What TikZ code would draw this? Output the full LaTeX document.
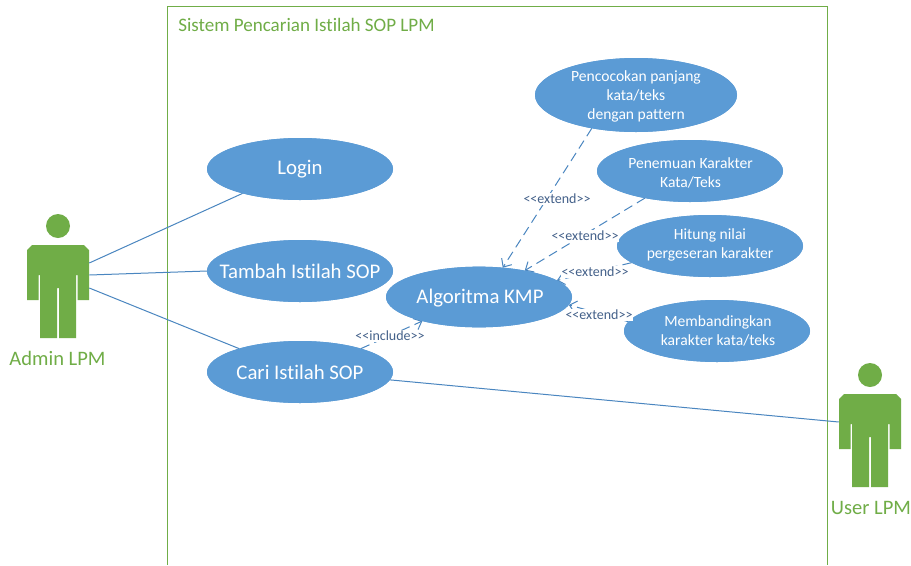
\documentclass[tikz,border=0pt]{standalone}
\usepackage{fontspec}
\setmainfont{Carlito}[Ligatures=NoCommon]
\usetikzlibrary{shapes.geometric,arrows.meta}
\definecolor{ucblue}{HTML}{5B9BD5}
\definecolor{lnblue}{HTML}{4A86C0}
\definecolor{lbblue}{HTML}{44618A}
\definecolor{acgreen}{HTML}{70AD47}
\tikzset{
  x=0.75pt,y=-0.75pt,
  usecase/.style={ellipse,fill=ucblue,draw=none,inner sep=0pt,outer sep=0pt},
  big/.style={usecase,minimum width=139.5pt,minimum height=46.5pt},
  bigtext/.style={text=white,font=\fontsize{15.6}{18}\selectfont,align=center},
  smalltext/.style={text=white,font=\fontsize{11.7}{14.2}\selectfont,align=center,inner sep=0pt},
  assoc/.style={draw=lnblue,line width=0.75pt},
  dep/.style={assoc,dashed,dash pattern=on 7pt off 4pt,-{Straight Barb[length=5pt,width=9pt]}},
  stereo/.style={text=lbblue,font=\fontsize{10.5}{11}\selectfont,inner sep=0.5pt,fill=white},
  actorname/.style={text=acgreen,font=\fontsize{15.4}{17}\selectfont,inner sep=0pt},
  actorbox/.style={inner sep=0pt,minimum width=46.5pt,minimum height=92pt},
  pics/actorfig/.style={code={
    \fill[acgreen] (31,-43) circle[radius=9pt];
    \fill[acgreen] (0,-19) -- (5,-24) -- (57,-24) -- (62,-19) -- (62,31) -- (50.5,31) -- (50.5,6)
      -- (49,6) -- (49,69) -- (32,69) -- (32,19) -- (30,19) -- (30,69) -- (13,69) -- (13,6)
      -- (11.5,6) -- (11.5,31) -- (0,31) -- cycle;
  }}
}
\begin{document}
\begin{tikzpicture}
\useasboundingbox (0,0) rectangle (911,565);
\fill[white] (0,0) rectangle (911,565);
\draw[acgreen,line width=0.6pt] (167,565) -- (167,6) -- (827,6) -- (827,565);
\node[anchor=west,text=acgreen,font=\fontsize{14.3}{16}\selectfont,inner sep=0pt] (sys) at (178,25) {Sistem Pencarian Istilah SOP LPM};
\pic at (27,269) {actorfig};
\pic at (839,418) {actorfig};
\node[actorbox] (admin) at (58,291.5) {};
\node[actorbox] (user) at (870,440.5) {};
\node[actorname] (adminname) at (57.5,358) {Admin LPM};
\node[actorname] (username) at (871,508) {User LPM};
\node[big] (login) at (300,169) {};
\node[big] (tambah) at (300,271) {};
\node[big] (cari) at (300,372) {};
\node[big,minimum height=45.5pt] (alg) at (479,297) {};
\node[usecase,minimum width=151.5pt,minimum height=55.5pt] (penc) at (636,95) {};
\node[big] (pene) at (690,171) {};
\node[big] (hit) at (710,246) {};
\node[big] (memb) at (717,331) {};
\draw[assoc] (admin.east |- 0,263) -- (login.203);
\draw[assoc] (admin.east |- 0,275) -- (tambah.180);
\draw[assoc] (admin.east |- 0,288) -- (cari.159);
\draw[assoc] (cari.-5) -- (user.west |- 0,422);
\draw[dep] (cari.21.6) -- (alg.203);
\draw[dep] (penc.217) -- (alg.51.6);
\draw[dep] (pene.211) -- (alg.30);
\draw[dep] (hit.192) -- (alg.12.3);
\draw[dep] (memb.174) -- (alg.-5);
\node[big] at (login) {};
\node[big] at (tambah) {};
\node[big] at (cari) {};
\node[big,minimum height=45.5pt] at (alg) {};
\node[usecase,minimum width=151.5pt,minimum height=55.5pt] at (penc) {};
\node[big] at (pene) {};
\node[big] at (hit) {};
\node[big] at (memb) {};
\node[bigtext] (tlogin) at (300,169.5) {Login};
\node[bigtext] (ttambah) at (300,271) {Tambah Istilah SOP};
\node[bigtext] (tcari) at (300,372.5) {Cari Istilah SOP};
\node[bigtext] (talg) at (480,298) {Algoritma KMP};
\node[smalltext] (tpenc) at (636,96) {Pencocokan panjang\\kata/teks\\dengan pattern};
\node[smalltext] (tpene) at (690.5,172.5) {Penemuan Karakter\\Kata/Teks};
\node[smalltext] (thit) at (710,245) {Hitung nilai\\pergeseran karakter};
\node[smalltext] (tmemb) at (718,331) {Membandingkan\\karakter kata/teks};
\node[stereo] (l1) at (390,336) {<{}<include>{}>};
\node[stereo] (l2) at (557,199) {<{}<extend>{}>};
\node[stereo] (l3) at (585,236) {<{}<extend>{}>};
\node[stereo] (l4) at (595,272) {<{}<extend>{}>};
\node[stereo] (l5) at (599,315) {<{}<extend>{}>};
\end{tikzpicture}
\end{document}
